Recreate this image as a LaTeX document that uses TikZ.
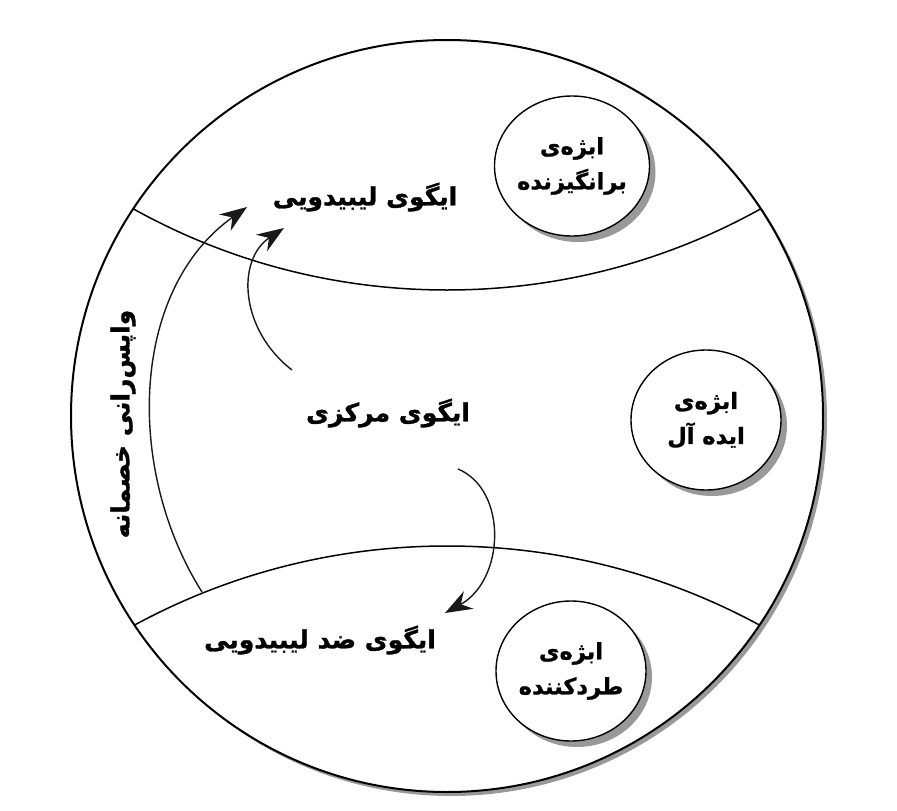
\documentclass[tikz,border=0pt]{standalone}
\usepackage{fontspec}
\usetikzlibrary{arrows.meta,shapes.geometric,shadows}
\TeXXeTstate=1
\newfontfamily\fa[Script=Arabic, BoldFeatures={FakeBold=1.2}]{DejaVu Sans}
\tikzset{
  lbl/.style={font=\fa\bfseries\fontsize{25}{30}\selectfont, inner sep=0pt},
  obj/.style={ellipse, draw=black, line width=1.4pt, fill=white, inner sep=0pt,
    minimum width=150pt, minimum height=140pt, align=center,
    font=\fa\bfseries\fontsize{22.5}{35}\selectfont,
    drop shadow={shadow xshift=6pt, shadow yshift=-6pt, fill=black!40, opacity=1}},
  bigc/.style={draw=black, line width=2pt, fill=white,
    drop shadow={shadow xshift=4pt, shadow yshift=-4pt, fill=black!40, opacity=1}},
  band/.style={draw=black, line width=1.5pt},
  flow/.style={draw=black!90, line width=1.4pt, -{Stealth[length=27pt,width=20pt,inset=9pt]}}
}
\begin{document}
\begin{tikzpicture}[x=1pt,y=-1pt]
\useasboundingbox[fill=white] (0,0) rectangle (897,811);
% outer circle
\path[bigc] (447,416) circle (376pt);
\begin{scope}
  \clip (447,416) circle (376pt);
  \draw[band] (447,-356) circle (646pt);
  \draw[band] (447,1202) circle (656pt);
\end{scope}
% coordinates
\coordinate (h0) at (202,592);
\coordinate (h1) at (247,207);
\coordinate (c0) at (292,370);
\coordinate (c1) at (284,228);
\coordinate (d0) at (458,469);
\coordinate (d1) at (445,613);
% curves and arrows
\draw[flow] (h0) .. controls (125,470) and (130,290) .. (h1);
\draw[flow] (c0) .. controls (240,330) and (236,260) .. (c1);
\draw[flow] (d0) .. controls (508,490) and (505,580) .. (d1);
% objects
\node[obj] (exc) at (572,166) {\beginR ابژه‌ی\endR\\\beginR برانگیزنده\endR};
\node[obj] (ideal) at (706,420) {\beginR ابژه‌ی\endR\\\beginR ایده آل\endR};
\node[obj] (rej) at (571,671) {\beginR ابژه‌ی\endR\\\beginR طردکننده\endR};
% labels
\node[lbl] (lib) at (365,197) {\beginR ایگوی لیبیدویی\endR};
\node[lbl] (cen) at (388,413) {\beginR ایگوی مرکزی\endR};
\node[lbl] (anti) at (320,640) {\beginR ایگوی ضد لیبیدویی\endR};
\node[lbl, rotate=90] (rep) at (123,424) {\beginR واپس‌رانی خصمانه\endR};
\end{tikzpicture}
\end{document}
